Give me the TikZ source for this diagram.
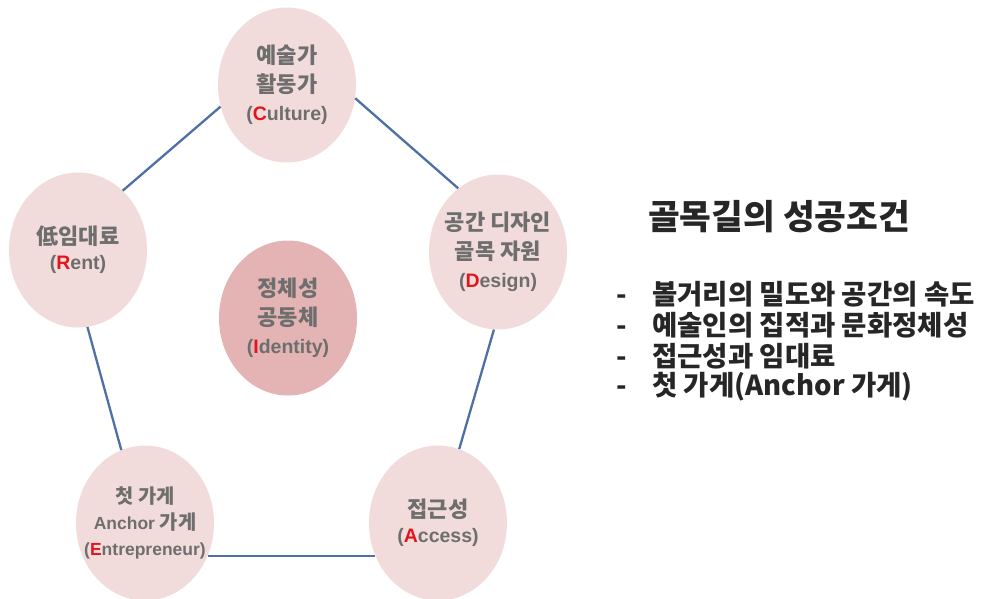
\documentclass[tikz,border=0pt]{standalone}
\usepackage{fontspec}
\setmainfont{Liberation Sans}
\newfontfamily\kr{Noto Sans CJK KR}
\newfontfamily\krc[Scale=1.13]{Noto Sans CJK KR}
\usetikzlibrary{shapes.geometric}
\definecolor{pinkfill}{HTML}{F2DCDB}
\definecolor{pinkdark}{HTML}{E3B4B3}
\definecolor{linkblue}{HTML}{4F70A4}
\definecolor{txtgray}{HTML}{6E6E6E}
\definecolor{redl}{HTML}{E3141C}
\definecolor{darktxt}{HTML}{262626}
\newcommand\redlet[1]{\textcolor{redl}{#1}}
\begin{document}
\begin{tikzpicture}[x=1pt,y=-1pt,
  bubble/.style={ellipse, fill=pinkfill, minimum width=138pt, minimum height=155pt,
    inner xsep=-30pt, inner ysep=0pt, align=center, text=txtgray,
    font=\fontsize{19.5}{28.5}\selectfont\bfseries},
  twoline/.style={font=\fontsize{19.5}{25}\selectfont\bfseries},
  core/.style={bubble, fill=pinkdark},
  link/.style={draw=linkblue, line width=2.3pt},
  heading/.style={anchor=west, inner sep=0pt, text=darktxt,
    font=\kr\bfseries\fontsize{34.5}{35}\selectfont},
  bul/.style={anchor=west, inner sep=0pt, text=darktxt,
    font=\kr\bfseries\fontsize{27.5}{28}\selectfont}]
\fill[white] (0,0) rectangle (984,598);
\useasboundingbox (0,0) rectangle (984,598);

\node[bubble] (c) at (287,85) {{\krc 예술가}\\{\krc 활동가}\\(\redlet{C}ulture)};
\node[bubble, twoline] (r) at (78,250) {{\krc 低임대료}\\(\redlet{R}ent)};
\node[bubble] (d) at (498,252) {{\krc 공간 디자인}\\{\krc 골목 자원}\\(\redlet{D}esign)};
\node[core] (i) at (288,318) {{\krc 정체성}\\{\krc 공동체}\\(\redlet{I}dentity)};
\node[bubble, font=\fontsize{17.5}{26}\selectfont\bfseries] (e) at (145,523) {{\krc 첫 가게}\\Anchor {\krc 가게}\\(\redlet{E}ntrepreneur)};
\node[bubble, twoline] (a) at (438,523) {{\krc 접근성}\\(\redlet{A}ccess)};

\draw[link] (c.198) -- (r.53);
\draw[link] (c.349) -- (d.122);
\draw[link] (r.277) -- (e.108);
\draw[link] (d.267) -- (a.74);
\draw[link] (e.-28) -- (a.208);

\node[heading] (t) at (648,217) {골목길의 성공조건};
\node[bul] (b1) at (616,294) {\makebox[36pt][l]{-}볼거리의 밀도와 공간의 속도};
\node[bul] (b2) at (616,325) {\makebox[36pt][l]{-}예술인의 집적과 문화정체성};
\node[bul] (b3) at (616,356) {\makebox[36pt][l]{-}접근성과 임대료};
\node[bul] (b4) at (616,387) {\makebox[36pt][l]{-}첫 가게(Anchor 가게)};
\end{tikzpicture}
\end{document}
